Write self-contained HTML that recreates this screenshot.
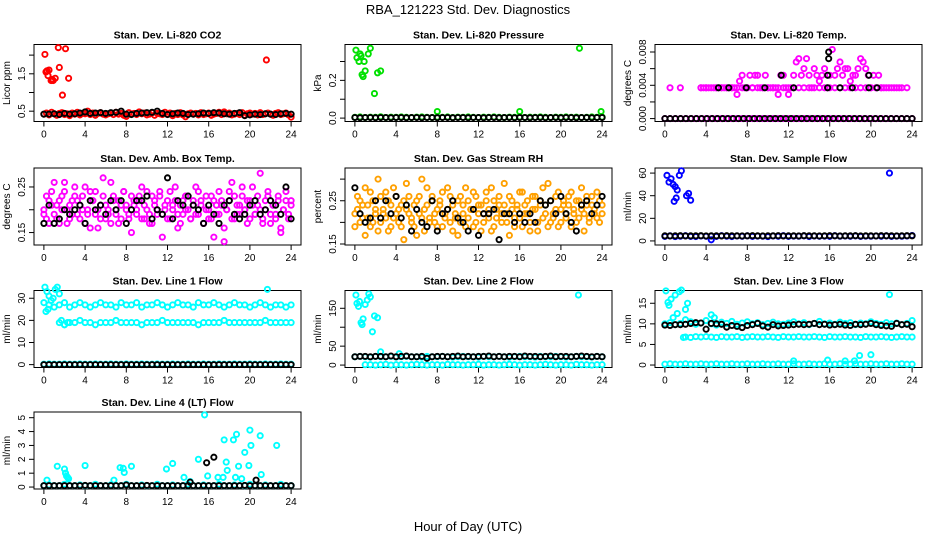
<!DOCTYPE html>
<html><head><meta charset="utf-8"><style>
html,body{margin:0;padding:0;background:#fff;}
svg{display:block;font-family:"Liberation Sans",sans-serif;}
</style></head><body>
<svg id="chart" width="936" height="540" viewBox="0 0 936 540">
<text x="468" y="14" text-anchor="middle" font-size="13">RBA_121223  Std. Dev. Diagnostics</text>
<text x="468" y="531" text-anchor="middle" font-size="13">Hour of Day (UTC)</text>
</svg>
<script>
const n=null;
const xTicks=[0,4,8,12,16,20,24];
// CO2
const co2Band=[.42,.45,.40,.47,.43,.39,.44,.46,.41,.43,.38,.45,.42,.47,.40,.44,.43,.50,.41,.45,.39,.44,.46,.42,.40,.43,.45,.41,.47,.42,.44,.39,.36,.46,.42,.44,.41,.48,.43,.45,.40,.42,.46,.39,.44,.43,.41,.47,.42,.45,.38,.44,.41,.46,.40,.35,.43,.45,.42,.44,.40,.46,.41,.43,.45,.39,.42,.44,.47,.41,.48,.43,.45,.40,.42,.44,.41,.46,.39,.43,.45,.42,.44,.40,.46,.41,.43,.45,.42,.39,.44,.46,.41,.43,.45,.40,.34];
const co2Mean=[.42,.42,.43,.41,.44,.42,.43,.45,.48,.44,.45,.46,.44,.46,.47,.50,.42,.41,.44,.45,.46,.47,.50,.44,.41,.43,.45,.44,.41,.42,.43,.45,.44,.46,.45,.43,.42,.44,.46,.38,.40,.42,.41,.43,.42,.41,.43,.44,.42];
const co2OutX=[0.1,0.2,0.3,0.4,0.5,0.7,0.8,0.9,1.1,1.4,1.5,1.8,2.1,2.4,21.6];
const co2OutY=[2.02,1.55,1.58,1.45,1.6,1.32,1.35,1.32,1.38,2.2,1.67,0.93,2.17,1.38,1.87];
// Pressure
const presBand=[.004,.006,.003,.005,.004,.007,.003,.005,.004,.006,.004,.003,.005,.006,.004,.003,.005,.004,.006,.003,.005,.004,.006,.004,.003,.005,.004,.006,.004,.003,.005,.004,.006,.003,.005,.004,.006,.004,.003,.005,.004,.006,.004,.005,.003,.004,.006,.004,.005];
const presMean=[.003,.002,.003,.003,.002,.003,.003,.002,.003,.003,.002,.003,.003,.002,.003,.003,.002,.003,.003,.002,.003,.003,.002,.003,.003,.002,.003,.003,.002,.003,.003,.002,.003,.003,.002,.003,.003,.002,.003,.003,.002,.003,.003,.002,.003,.003,.002,.003,.003];
const presOutX=[0.1,0.2,0.4,0.5,0.6,0.9,1.3,1.5,0.7,0.8,1.0,2.2,2.5,1.9,8.0,16.0,21.8,23.9];
const presOutY=[0.36,0.32,0.30,0.34,0.33,0.30,0.34,0.37,0.23,0.22,0.25,0.24,0.25,0.13,0.035,0.035,0.37,0.035];
// Temp
const tempBase=[0,0,0,0,0,0,0,0,0,0,0,0,0,0,0,0,0,0,0,0,0,0,0,0,0,0,0,0,0,0,0,0,0,0,0,0,0,0,0,0,0,0,0,0,0,0,0,0,0];
const tempUpper=[n,n,.0037,n,n,n,.0037,n,n,n,n,n,n,n,.0037,.0037,.0037,.0037,n,.0037,.0037,.0037,.0037,.0037,.0037,.0037,.0037,.0037,.0029,.0045,.0052,.0037,.0037,.0052,.0037,.0052,.0052,.0037,.0037,.0052,.0037,.0037,.0037,.0037,.0029,.0052,.0052,.0037,.0037,.0037,.0052,.0068,.0072,.0052,.0060,.0072,.0052,.0037,.0060,.0052,.0045,.0052,.0060,.0037,.0052,.0083,.0052,.0060,.0068,.0052,.0060,.0060,.0045,.0052,.0052,.0060,.0072,.0068,.0060,.0052,.0037,.0052,.0037,.0052,.0037,.0037,.0037,.0037,.0037,.0037,.0037,.0037,.0037,n,.0037,n,n];
const tempRow=[n,n,n,n,n,n,n,.0037,.0037,.0037,.0037,.0037,.0037,.0037,.0037,.0037,.0037,.0037,.0037,.0037,.0037,.0037,.0037,.0037,.0029,.0037,.0037,.0037,.0037,.0037,.0037,.0037,.0037,.0037,.0037,.0037,.0037,.0037,.0037,.0037,.0037,.0037,.0037,n,n,n,n,n,n];
const tempMeanX=[5.2,6.2,7.9,9.7,11.3,12.5,15.8,15.8,15.9,15.9,17,18.2,19.8,19.8,20.6];
const tempMeanY=[.0037,.0037,.0037,.0037,.0052,.0037,.0037,.0052,.0072,.0080,.0037,.0037,.0037,.0052,.0037];
// Amb box temp
const ambA=[.20,.18,.22,.24,.19,.21,.17,.23,.26,.20,.18,.22,.25,.19,.21,.23,.17,.20,.24,.22,.19,.16,.21,.23,.18,.20,.26,.22,.19,.17,.21,.24,.20,.18,.23,.21,.19,.22,.25,.18,.20,.17,.23,.21,.19,.24,.14,.20,.22,.18,.21,.25,.19,.17,.22,.20,.23,.18,.21,.19,.24,.22,.17,.20,.18,.23,.14,.21,.19,.22,.16,.20,.24,.26,.18,.21,.19,.23,.20,.17,.22,.25,.19,.21,.28,.18,.20,.23,.17,.21,.19,.22,.16,.20,.24,.18,.21];
const ambB=[.19,.23,.17,.21,.26,.18,.22,.20,.24,.17,.21,.19,.23,.22,.18,.20,.25,.19,.16,.22,.24,.20,.18,.27,.21,.19,.17,.23,.20,.22,.18,.24,.21,.19,.15,.22,.20,.23,.18,.21,.24,.19,.17,.22,.20,.23,.19,.21,.18,.24,.20,.22,.16,.21,.19,.23,.20,.18,.22,.25,.19,.21,.17,.23,.20,.18,.22,.19,.24,.21,.13,.20,.22,.18,.23,.19,.21,.25,.20,.22,.18,.21,.19,.23,.20,.17,.22,.24,.19,.21,.18,.23,.15,.20,.22,.19,.22];
const ambMean=[.17,.21,.17,.18,.20,.19,.20,.21,.17,.22,.20,.21,.19,.22,.20,.22,.17,.20,.22,.22,.23,.18,.20,.19,.27,.18,.22,.21,.23,.21,.20,.17,.21,.19,.17,.21,.22,.19,.18,.19,.21,.22,.19,.20,.22,.21,.19,.25,.18];
// RH
const rhA=[.22,.26,.20,.24,.28,.21,.19,.25,.23,.30,.20,.22,.27,.18,.24,.21,.26,.23,.19,.25,.29,.22,.20,.24,.17,.26,.21,.23,.28,.20,.25,.22,.19,.24,.27,.21,.23,.26,.18,.22,.25,.20,.24,.28,.21,.23,.19,.26,.22,.24,.20,.27,.23,.18,.25,.21,.24,.22,.29,.20,.26,.23,.19,.24,.21,.27,.22,.25,.18,.23,.26,.20,.24,.28,.22,.19,.25,.21,.23,.27,.20,.24,.22,.26,.19,.23,.25,.21,.28,.22,.24,.20,.26,.23,.21,.25,.22];
const rhB=[.19,.23,.25,.21,.17,.24,.27,.20,.22,.18,.26,.23,.21,.25,.19,.28,.22,.20,.24,.16,.23,.26,.21,.19,.25,.22,.30,.18,.24,.21,.26,.20,.23,.25,.19,.22,.28,.20,.24,.21,.17,.26,.22,.19,.25,.23,.27,.20,.24,.18,.22,.25,.21,.28,.19,.23,.26,.20,.24,.22,.17,.25,.21,.23,.27,.19,.24,.22,.20,.26,.23,.18,.25,.21,.24,.29,.20,.22,.26,.19,.23,.25,.21,.24,.27,.22,.20,.25,.23,.18,.26,.21,.24,.22,.27,.20,.24];
const rhMean=[.28,.22,.20,.21,.25,.21,.25,.22,.26,.21,.24,.18,.23,.20,.19,.25,.18,.22,.23,.25,.21,.20,.18,.23,.17,.22,.22,.23,.16,.22,.22,.20,.22,.20,.22,.20,.25,.24,.25,.22,.26,.22,.20,.18,.24,.25,.22,.24,.26];
// Sample flow
const sfBand=[4,4.5,3.8,4.2,4.6,4,3.9,4.4,4.1,4.3,4,4.6,4.2,3.9,4.4,4.1,4.5,4,4.3,4.2,3.8,4.4,4.1,4.6,4,4.3,4.2,4.5,3.9,4.4,4.1,4.3,4,4.6,4.2,4.4,4.1,4.5,4,4.3,4.2,4.4,4.1,4.5,4,4.3,4.2,4.4,4.8];
const sfMean=[4.5,4.4,4.5,4.6,4.4,4.5,4.5,4.6,4.4,4.5,4.5,4.4,4.6,4.5,4.5,4.4,4.5,4.6,4.5,4.4,4.5,4.5,4.6,4.4,4.5,4.5,4.4,4.6,4.5,4.5,4.4,4.5,4.6,4.5,4.4,4.5,4.5,4.6,4.4,4.5,4.5,4.4,4.6,4.5,4.5,4.4,4.5,4.6,4.5];
const sfOutX=[0.2,0.4,0.6,0.8,1.0,1.2,1.4,1.6,0.9,1.1,2.1,2.3,2.5,21.8,4.5];
const sfOutY=[58,52,55,50,48,45,58,62,35,38,40,42,36,60,1];
// Line 1
const l1Upper=[28,27,26,27,28,26,27,28,27,26,27,28,27,27,26,28,27,27,28,26,27,27,28,27,26,27,28,27,27,26,28,27,27,28,27,26,27,28,27,27,26,27,28,27,26,27,27,26,27];
const l1Lower=[n,n,n,19,18,19,19,20,19,19,18,19,19,19,20,19,19,19,19,18,19,19,19,20,19,19,19,19,19,19,18,19,19,19,19,20,19,19,19,19,19,19,19,20,19,19,19,19,19];
const l1Base=[.2,.3,.2,.2,.3,.2,.2,.3,.2,.2,.3,.2,.2,.3,.2,.2,.3,.2,.2,.3,.2,.2,.3,.2,.2,.3,.2,.2,.3,.2,.2,.3,.2,.2,.3,.2,.2,.3,.2,.2,.3,.2,.2,.3,.2,.2,.3,.2,.2];
const l1OutX=[0.1,0.3,0.5,0.7,0.9,1.1,1.3,1.5,1.7,2.0,2.3,21.7,0.2,0.4];
const l1OutY=[35,33,31,29,30,34,35,32,20,18,19,34,24,25];
// Line 2
const l2Band=[22,23,22,21,23,22,22,23,21,22,23,22,22,21,23,22,22,23,22,21,22,23,22,22,21,23,22,22,23,22,21,22,23,22,22,21,23,22,22,23,22,21,22,23,22,22,21,23,22];
const l2Base=[n,n,1,1,0,1,2,0,1,1,0,1,2,1,0,1,1,0,2,1,1,0,1,1,2,0,1,1,0,1,2,1,0,1,1,0,1,2,1,0,1,1,0,2,1,1,0,1,1];
const l2Mean=[22,23,23,22,23,23,22,24,22,23,24,22,22,23,18,22,23,23,22,23,24,22,23,22,23,23,24,22,23,22,23,23,22,24,23,23,22,23,24,22,23,23,22,23,24,23,22,23,22];
const l2OutX=[0.1,0.2,0.35,0.45,0.6,0.7,0.8,1.0,1.2,1.35,1.5,1.7,1.9,2.2,2.5,4.3,21.7];
const l2OutY=[185,163,155,168,112,107,122,160,172,188,180,88,130,125,35,30,185];
// Line 3
const l3Mean=[9.7,9.6,9.8,9.8,9.9,10.1,10.3,10.2,8.7,10.1,10,9.9,9.2,9.6,9.4,9.1,9.6,9.8,10.1,9.5,9.2,9.8,9.5,9.6,9.7,9.8,9.9,9.8,9.9,10.1,9.8,9.9,9.7,9.8,9.9,9.7,9.6,9.9,9.8,9.9,10.1,9.8,9.6,9.5,9.4,10.1,9.8,9.9,9.3];
const l3Band=[10,10.3,9.8,10.1,11,10.5,9.9,10.2,10.8,10,9.7,10.4,10.1,10.6,9.9,10.2,10.5,10,10.3,9.8,10.1,10.4,10,9.9,10.2,10.5,10,10.3,9.8,10.1,10.6,10,10.2,9.9,10.4,10.1,10.3,9.8,10.2,10,10.5,10.1,9.9,10.3,10,10.2,9.8,10.1,10.8];
const l3Mid=[n,n,n,n,6.8,6.7,6.9,6.8,6.9,6.8,6.7,6.9,6.8,6.8,6.9,6.7,6.8,6.9,6.8,6.8,6.9,6.8,6.7,6.9,6.8,6.8,6.9,6.8,6.8,6.9,6.8,6.7,6.9,6.8,6.8,6.9,6.8,6.8,6.7,6.9,6.8,6.8,6.9,6.8,6.7,6.8,6.9,6.8,6.8];
const l3Base=[.2,.3,.2,.2,.3,.2,.2,.3,.2,.2,.3,.2,.2,.3,.2,.2,.3,.2,.2,.3,.2,.2,.3,.2,.2,.3,.2,.2,.3,.2,.2,.3,.2,.2,.3,.2,.2,.3,.2,.2,.3,.2,.2,.3,.2,.2,.3,.2,.2];
const l3OutX=[0.1,0.3,0.4,0.6,0.8,1.0,1.2,1.4,1.6,1.8,2.0,2.2,4.5,4.8,12.5,15.8,17.5,18.4,18.9,20,21.8];
const l3OutY=[18,15.2,14.5,16,11.5,17,12.5,17.8,18.2,6.7,13.5,15,12.2,11.5,1,1.2,1,1,2.3,2.5,17.1];
// Line 4
const l4Base=[.1,.15,.1,.1,.2,.1,.1,.15,.1,.1,.2,.1,.1,.15,.1,.1,.2,.1,.1,.15,.1,.1,.2,.1,.1,.15,.1,.1,.2,.1,.1,.15,.1,.1,.2,.1,.1,.15,.1,.1,.2,.1,.1,.15,.1,.1,.2,.1,.1];
const l4Mean=[.1,.1,.1,.1,.1,.1,.1,.1,.12,.1,.1,.1,.1,.1,.1,.1,.15,.1,.1,.1,.12,.1,.1,.1,.1,.1,.1,.1,.1,.1,.1,.1,.1,.1,.1,.1,.1,.1,.1,.12,.1,.1,.1,.1,.1,.1,.1,.1,.1];
const l4OutX=[0.3,1.3,2.0,2.1,2.2,2.3,2.4,4.0,6.8,7.4,7.7,7.8,8.5,11.9,12.5,13.6,15.0,15.6,15.9,16.9,17.4,17.5,17.7,17.8,18.4,18.6,18.7,18.9,19.2,19.5,19.9,20.0,20.1,21.0,21.1,22.6,14.2];
const l4OutY=[.5,1.5,1.3,1.0,.8,.7,.6,1.55,.5,1.4,1.35,1.05,1.5,1.3,1.7,.7,2.0,5.2,.8,.7,.7,3.4,1.8,1.2,3.4,.7,3.8,1.5,.6,2.5,1.55,4.1,3.0,3.7,.9,3.0,.4];
const l4MeanX=[14.2,15.8,16.5,20.6];
const l4MeanY=[.35,1.75,2.15,.5];

const svg=document.getElementById('chart');
const NS='http://www.w3.org/2000/svg';
function mk(tag,attrs,parent){const e=document.createElementNS(NS,tag);for(const k in attrs)e.setAttribute(k,attrs[k]);(parent||svg).appendChild(e);return e;}
const W=267,H=77;
const cols=[34,345,655], rows=[44.5,168,290.5,412];
function panel(col,row,title,ylab,ylim,ticks,labels,name){
  const L=cols[col],T=rows[row];
  const g=mk('g',{});
  
  
  const p={L,T,g,sx:x=>L+(x+0.96)/25.92*W,sy:y=>T+H-(y-ylim[0])/(ylim[1]-ylim[0])*H};
  const t=mk('text',{x:L+W/2,y:T-6,'text-anchor':'middle','font-size':10.5,'font-weight':'bold'},g);t.textContent=title;
  
  
  const b=mk('rect',{x:L,y:T,width:W,height:H,fill:'none',stroke:'#000','stroke-width':1},g);
  
  
  xTicks.forEach(v=>{const x=p.sx(v);mk('line',{x1:x,x2:x,y1:T+H,y2:T+H+5,stroke:'#000'},g);
    const tx=mk('text',{x:x,y:T+H+16,'text-anchor':'middle','font-size':10},g);tx.textContent=v;
    
    });
  ticks.forEach((v,i)=>{const y=p.sy(v);mk('line',{x1:L-5,x2:L,y1:y,y2:y,stroke:'#000'},g);
    if(labels[i]!==''){const tx=mk('text',{x:L-9,y:y,'text-anchor':'middle','font-size':10,transform:`rotate(-90 ${L-9} ${y})`},g);tx.textContent=labels[i];
    
    }});
  const yl=mk('text',{x:L-24,y:T+H/2,'text-anchor':'middle','font-size':10,transform:`rotate(-90 ${L-24} ${T+H/2})`},g);yl.textContent=ylab;
  
  
  return p;
}
function seriesIdx(p,vals,color,name){
  const N=vals.length;
  vals.forEach((v,i)=>{if(v===null)return;
    const c=mk('circle',{cx:p.sx(i*24/(N-1)),cy:p.sy(v),r:2.6,fill:'none',stroke:color,'stroke-width':1.9},p.g);
    
    });
}
function seriesXY(p,xs,ys,color,name){
  xs.forEach((x,i)=>{
    const c=mk('circle',{cx:p.sx(x),cy:p.sy(ys[i]),r:2.6,fill:'none',stroke:color,'stroke-width':1.9},p.g);
    
    });
}
const RED='#ff0000',GRN='#00e000',MAG='#ff00ff',ORG='#ffa000',BLU='#0000ff',CYN='#00ffff',BLK='#000';
let p;
p=panel(0,0,'Stan. Dev. Li-820 CO2','Licor ppm',[0.224,2.284],[0.5,1,1.5,2],['0.5','','1.5',''],'co2');
seriesIdx(p,co2Band,RED,'co2-point');seriesXY(p,co2OutX,co2OutY,RED,'co2-point');seriesIdx(p,co2Mean,BLK,'co2-mean-point');
p=panel(1,0,'Stan. Dev. Li-820 Pressure','kPa',[-0.018,0.39],[0,0.1,0.2,0.3],['0.0','','0.2',''],'pressure');
seriesIdx(p,presBand,GRN,'pressure-point');seriesXY(p,presOutX,presOutY,GRN,'pressure-point');seriesIdx(p,presMean,BLK,'pressure-mean-point');
p=panel(2,0,'Stan. Dev. Li-820 Temp.','degrees C',[-0.00035,0.0089],[0,0.002,0.004,0.006,0.008],['0.000','','0.004','','0.008'],'temp');
seriesIdx(p,tempUpper,MAG,'temp-point');seriesIdx(p,tempRow,MAG,'temp-point');seriesIdx(p,tempBase,MAG,'temp-point');seriesIdx(p,tempBase.slice(0,48),BLK,'temp-mean-point');seriesXY(p,tempMeanX,tempMeanY,BLK,'temp-mean-point');
p=panel(0,1,'Stan. Dev. Amb. Box Temp.','degrees C',[0.1227,0.2916],[0.15,0.2,0.25],['0.15','','0.25'],'amb-temp');
seriesIdx(p,ambA,MAG,'amb-temp-point');seriesIdx(p,ambB,MAG,'amb-temp-point');seriesIdx(p,ambMean,BLK,'amb-temp-mean-point');
p=panel(1,1,'Stan. Dev. Gas Stream RH','percent',[0.1477,0.3257],[0.15,0.2,0.25,0.3],['0.15','','0.25',''],'rh');
seriesIdx(p,rhA,ORG,'rh-point');seriesIdx(p,rhB,ORG,'rh-point');seriesIdx(p,rhMean,BLK,'rh-mean-point');
p=panel(2,1,'Stan. Dev. Sample Flow','ml/min',[-3.6,64.5],[0,20,40,60],['0','20','40','60'],'sample-flow');
seriesIdx(p,sfBand,BLU,'sample-flow-point');seriesXY(p,sfOutX,sfOutY,BLU,'sample-flow-point');seriesIdx(p,sfMean,BLK,'sample-flow-mean-point');
p=panel(0,2,'Stan. Dev. Line 1 Flow','ml/min',[-1.3,33.5],[0,10,20,30],['0','10','20','30'],'line1');
seriesIdx(p,l1Upper,CYN,'line1-point');seriesIdx(p,l1Lower,CYN,'line1-point');seriesIdx(p,l1Base,CYN,'line1-point');seriesXY(p,l1OutX,l1OutY,CYN,'line1-point');seriesIdx(p,tempBase,BLK,'line1-mean-point');
p=panel(1,2,'Stan. Dev. Line 2 Flow','ml/min',[-6.4,197],[0,50,100,150],['0','50','','150'],'line2');
seriesIdx(p,l2Band,CYN,'line2-point');seriesIdx(p,l2Base,CYN,'line2-point');seriesXY(p,l2OutX,l2OutY,CYN,'line2-point');seriesIdx(p,l2Mean,BLK,'line2-mean-point');
p=panel(2,2,'Stan. Dev. Line 3 Flow','ml/min',[-0.6,18.1],[0,5,10,15],['0','5','10','15'],'line3');
seriesIdx(p,l3Band,CYN,'line3-point');seriesIdx(p,l3Mid,CYN,'line3-point');seriesIdx(p,l3Base,CYN,'line3-point');seriesXY(p,l3OutX,l3OutY,CYN,'line3-point');seriesIdx(p,l3Mean,BLK,'line3-mean-point');
p=panel(0,3,'Stan. Dev. Line 4 (LT) Flow','ml/min',[-0.14,5.41],[0,1,2,3,4,5],['0','1','2','3','4','5'],'line4');
seriesIdx(p,l4Base,CYN,'line4-point');seriesXY(p,l4OutX,l4OutY,CYN,'line4-point');seriesIdx(p,l4Mean,BLK,'line4-mean-point');seriesXY(p,l4MeanX,l4MeanY,BLK,'line4-mean-point');
</script>
</body></html>
